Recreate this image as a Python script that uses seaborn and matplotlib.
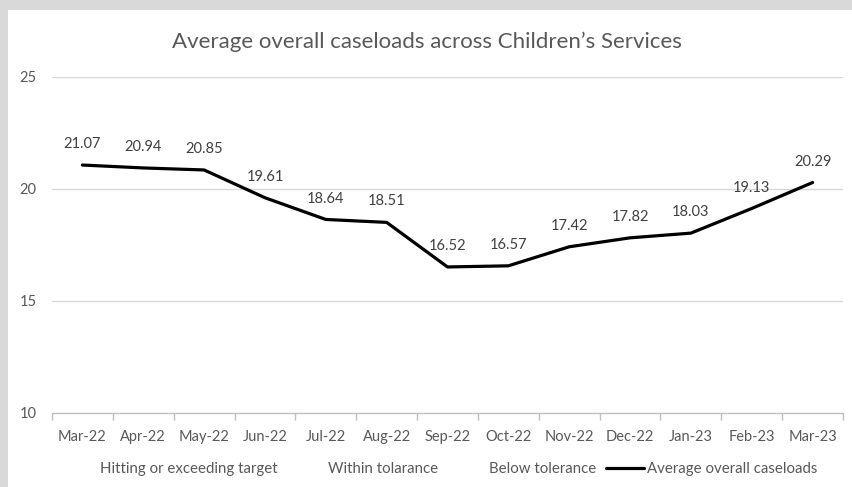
import matplotlib
matplotlib.use("Agg")
import matplotlib.pyplot as plt
import seaborn as sns
from matplotlib.lines import Line2D
from matplotlib.patches import Rectangle

months = ["Mar-22", "Apr-22", "May-22", "Jun-22", "Jul-22", "Aug-22", "Sep-22",
          "Oct-22", "Nov-22", "Dec-22", "Jan-23", "Feb-23", "Mar-23"]
caseloads = [21.07, 20.94, 20.85, 19.61, 18.64, 18.51, 16.52,
             16.57, 17.42, 17.82, 18.03, 19.13, 20.29]
y_ticks = [10, 15, 20, 25]
legend_labels = ["Hitting or exceeding target", "Within tolarance",
                 "Below tolerance", "Average overall caseloads"]

sns.set_theme(style="white")
plt.rcParams["font.family"] = ["Lato", "DejaVu Sans"]
text_grey = "#595959"

W, H = 853, 487
fig = plt.figure(figsize=(W / 100, H / 100), dpi=100)
fig.patch.set_facecolor("#d9d9d9")
# white chart area inside the grey frame
fig.patches.append(Rectangle((8 / W, 0), 1 - 8 / W, 1 - 10 / H, transform=fig.transFigure,
                             facecolor="white", edgecolor="none", zorder=-5))

ax = fig.add_axes([52 / W, (H - 413) / H, (843 - 52) / W, (413 - 77) / H])
ax.set_facecolor("none")
ax.set_zorder(2)

x = list(range(len(months)))
sns.lineplot(x=x, y=caseloads, ax=ax, color="black", linewidth=2.3)

for xi, v in zip(x, caseloads):
    ax.annotate(f"{v:.2f}", (xi, v), xytext=(0, 10), textcoords="offset points",
                ha="center", va="bottom", fontsize=10.5, color="#404040")

ax.set_xlim(-0.5, len(months) - 0.5)
ax.set_ylim(10, 25)
ax.set_yticks(y_ticks)
ax.tick_params(axis="y", left=False, length=0, labelsize=10.5, labelcolor=text_grey, pad=11)
ax.set_xticks(x)
ax.set_xticklabels(months)
ax.set_xticks([i - 0.5 for i in range(len(months) + 1)], minor=True)
ax.tick_params(axis="x", which="major", bottom=False, length=0, labelsize=10.5,
               labelcolor=text_grey, pad=12)
ax.tick_params(axis="x", which="minor", bottom=True, length=5, width=1,
               color="#bfbfbf", direction="out")

for yv in y_ticks[1:]:
    ax.axhline(yv, color="#d9d9d9", linewidth=1, zorder=0)
for side in ["top", "right", "left"]:
    ax.spines[side].set_visible(False)
ax.spines["bottom"].set_visible(True)
ax.spines["bottom"].set_color("#bfbfbf")
ax.spines["bottom"].set_linewidth(1)

fig.text(0.5, (H - 42) / H, "Average overall caseloads across Children\u2019s Services",
         ha="center", va="center", fontsize=16, color=text_grey)

handles = [Line2D([], [], color="white", alpha=0) for _ in range(3)]
handles.append(Line2D([], [], color="black", linewidth=2.3))
fig.legend(handles, legend_labels, loc="center", bbox_to_anchor=(0.514, (H - 469) / H),
           ncol=4, frameon=False, fontsize=10.8, labelcolor=text_grey,
           handlelength=2.5, handletextpad=0.2, columnspacing=0.67)

fig.savefig("out.png", dpi=100)
